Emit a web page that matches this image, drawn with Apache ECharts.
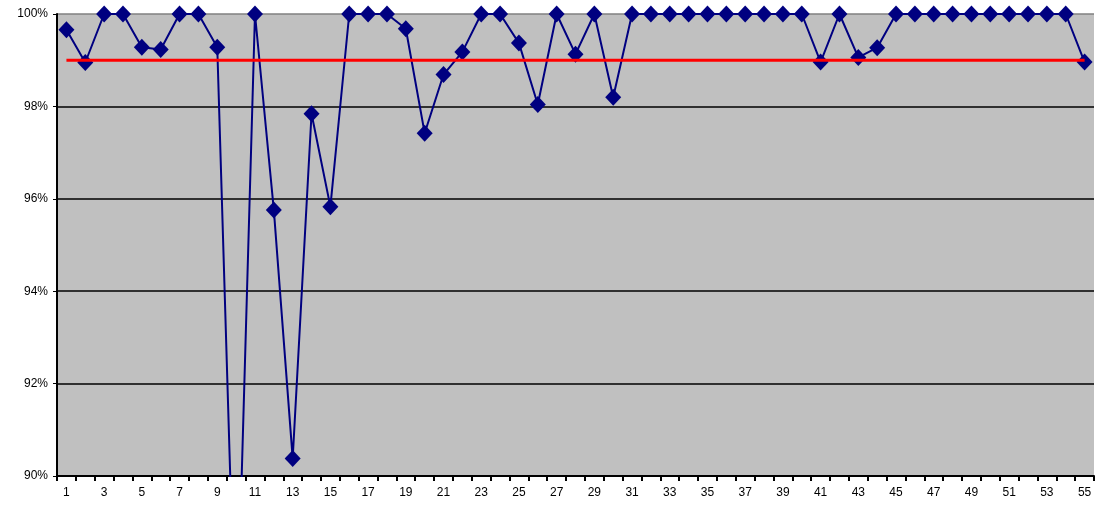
<!DOCTYPE html>
<html>
<head>
<meta charset="utf-8">
<script src="https://cdn.jsdelivr.net/npm/echarts@6/dist/echarts.min.js"></script>
<style>
  html, body { margin: 0; padding: 0; background: #fff; }
  #chart { width: 1095px; height: 511px; }
</style>
</head>
<body>
<div id="chart"></div>
<script>
// Category numbers along the x axis
const categories = Array.from({ length: 55 }, (_, i) => String(i + 1));

// Measured percentage per category
const values = [
  99.66, 98.95, 100, 100, 99.28, 99.23, 100, 100, 99.28, 85.8,
  100, 95.76, 90.38, 97.84, 95.83, 100, 100, 100, 99.68, 97.42,
  98.69, 99.18, 100, 100, 99.37, 98.04, 100, 99.13, 100, 98.2,
  100, 100, 100, 100, 100, 100, 100, 100, 100, 100,
  98.96, 100, 99.06, 99.27, 100, 100, 100, 100, 100, 100,
  100, 100, 100, 100, 98.96
];

// Target level drawn as the red reference line
const TARGET = 99;

// Y axis range and step
const Y_MIN = 90, Y_MAX = 100, Y_STEP = 2;

const chart = echarts.init(document.getElementById('chart'));
chart.setOption({
  animation: false,
  backgroundColor: '#ffffff',
  grid: {
    left: 57, right: 1, top: 14, bottom: 35,
    show: true, backgroundColor: '#c0c0c0', borderWidth: 0
  },
  xAxis: {
    type: 'category',
    data: categories,
    boundaryGap: true,
    axisLine: { lineStyle: { color: '#000', width: 2 } },
    axisTick: { show: true, interval: 0, length: 5, lineStyle: { color: '#000', width: 2 } },
    axisLabel: {
      interval: 1, color: '#000', fontFamily: 'Arial, Liberation Sans', fontSize: 12, margin: 11
    },
    splitLine: { show: false }
  },
  yAxis: {
    type: 'value',
    min: Y_MIN, max: Y_MAX, interval: Y_STEP,
    axisLine: { show: true, lineStyle: { color: '#000', width: 2 } },
    axisTick: { show: true, length: 4, lineStyle: { color: '#000', width: 1 } },
    axisLabel: {
      formatter: '{value}%', color: '#000', fontFamily: 'Arial, Liberation Sans', fontSize: 12, margin: 9
    },
    splitLine: {
      show: true,
      lineStyle: { color: ['#000', '#000', '#000', '#000', '#000', '#808080'], width: 1.5 }
    }
  },
  series: [
    {
      type: 'line',
      data: values,
      clip: true,
      symbol: 'diamond',
      symbolSize: [16, 17],
      showAllSymbol: true,
      itemStyle: { color: '#000080' },
      lineStyle: { color: '#000080', width: 2 },
      z: 2
    },
    {
      type: 'line',
      data: categories.map(() => TARGET),
      symbol: 'none',
      lineStyle: { color: '#ff0000', width: 3 },
      z: 3
    }
  ]
});
</script>
</body>
</html>
